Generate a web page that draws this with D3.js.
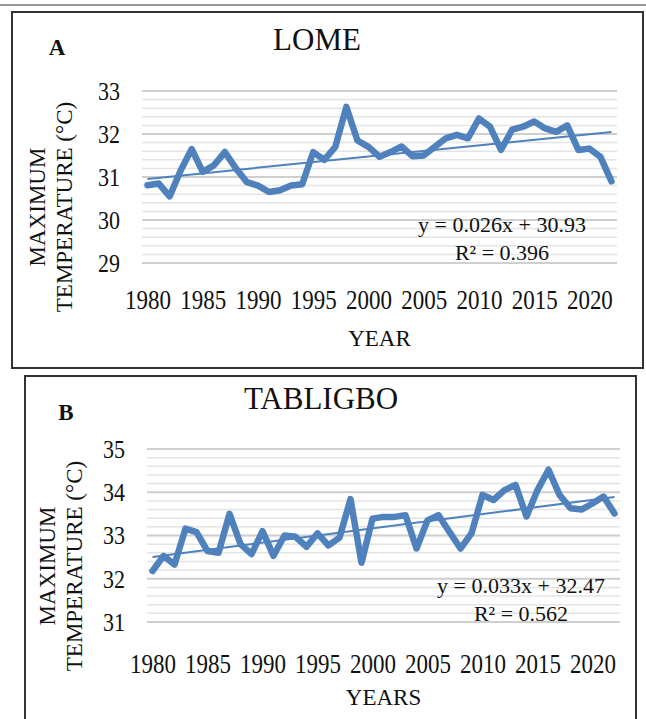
<!DOCTYPE html>
<html>
<head>
<meta charset="utf-8">
<script src="https://cdn.jsdelivr.net/npm/d3@7"></script>
<style>
  body { margin: 0; background: #fff; }
  svg text { font-family: "Liberation Serif", "Times New Roman", serif; fill: #111; }
</style>
</head>
<body>
<svg id="chart" width="646" height="719"></svg>
<script>
// values
var years = d3.range(1980, 2023);
var xTickLabels = [1980, 1985, 1990, 1995, 2000, 2005, 2010, 2015, 2020];

var lomeTmax = [30.81, 30.85, 30.55, 31.15, 31.65, 31.12, 31.27, 31.58, 31.2, 30.88,
                30.8, 30.65, 30.69, 30.8, 30.83, 31.58, 31.4, 31.7, 32.63, 31.85,
                31.7, 31.47, 31.58, 31.71, 31.48, 31.5, 31.7, 31.9, 31.98, 31.9,
                32.36, 32.17, 31.63, 32.1, 32.17, 32.29, 32.13, 32.05, 32.2, 31.63,
                31.66, 31.47, 30.9];
var tabligboTmax = [32.18, 32.53, 32.33, 33.16, 33.08, 32.64, 32.6, 33.5, 32.8, 32.57,
                    33.1, 32.53, 33.0, 32.97, 32.74, 33.05, 32.77, 32.95, 33.84, 32.37,
                    33.39, 33.43, 33.43, 33.47, 32.7, 33.35, 33.47, 33.08, 32.7, 33.05,
                    33.94, 33.82, 34.05, 34.17, 33.44, 34.05, 34.52, 33.94, 33.63, 33.6,
                    33.74, 33.9, 33.51];

var yTicksA = [29, 30, 31, 32, 33];
var yTicksB = [31, 32, 33, 34, 35];
var trendA = [0.026, 30.93];   // slope, intercept (x = 1..43)
var trendB = [0.033, 32.47];
var r2Labels = ['0.396', '0.562'];

var svg = d3.select('#chart');
var blue = '#4f81bd';

function drawPanel(p) {
    var g = svg.append('g');

    // frame
    g.append('rect')
        .attr('x', p.frame[0]).attr('y', p.frame[1])
        .attr('width', p.frame[2]).attr('height', p.frame[3])
        .attr('fill', '#fff').attr('stroke', '#333').attr('stroke-width', 2);

    var x = d3.scalePoint().domain(years).range([p.left, p.right]).padding(0.5);
    var y = d3.scaleLinear().domain([p.yTicks[0], p.yTicks[p.yTicks.length - 1]])
        .range([p.bottom, p.top]);

    // minor + major gridlines
    var minor = d3.range(p.yTicks[0], p.yTicks[p.yTicks.length - 1] + 0.01, 0.2);
    g.selectAll('.minor').data(minor).enter().append('line')
        .attr('x1', p.left).attr('x2', p.right)
        .attr('y1', function(d) { return y(d); })
        .attr('y2', function(d) { return y(d); })
        .attr('stroke', '#e4e4e4').attr('stroke-width', 1.5);
    g.selectAll('.major').data(p.yTicks).enter().append('line')
        .attr('x1', p.left).attr('x2', p.right)
        .attr('y1', function(d) { return y(d); })
        .attr('y2', function(d) { return y(d); })
        .attr('stroke', '#cfcfcf').attr('stroke-width', 1.8);

    // y axis labels
    var yAxis = g.append('g')
        .attr('transform', 'translate(' + (p.left - 22) + ',0)')
        .call(d3.axisLeft(y).tickValues(p.yTicks).tickFormat(d3.format('d'))
            .tickSize(0).tickPadding(0));
    yAxis.select('.domain').remove();
    yAxis.selectAll('text').style('font-size', '22px')
        .style('font-family', '"Liberation Serif", serif').attr('fill', '#111')
        .attr('dy', '0.33em').attr('transform', 'scale(1,1.15)');

    // x axis labels
    var xAxis = g.append('g')
        .attr('transform', 'translate(0,' + p.xLabelY + ')')
        .call(d3.axisBottom(x).tickValues(xTickLabels).tickSize(0).tickPadding(0));
    xAxis.select('.domain').remove();
    xAxis.selectAll('text').style('font-size', '23px')
        .style('font-family', '"Liberation Serif", serif').attr('fill', '#111')
        .attr('dy', '0.33em').attr('transform', 'scale(1,1.15)');

    // series line
    var line = d3.line()
        .x(function(d, i) { return x(years[i]); })
        .y(function(d) { return y(d); });
    g.append('path').datum(p.values)
        .attr('d', line)
        .attr('fill', 'none').attr('stroke', blue)
        .attr('stroke-width', 6.5).attr('stroke-linejoin', 'round').attr('stroke-linecap', 'round');

    // linear trend
    var n = years.length;
    g.append('line')
        .attr('x1', x(years[0])).attr('y1', y(p.trend[0] * 1 + p.trend[1]))
        .attr('x2', x(years[n - 1])).attr('y2', y(p.trend[0] * n + p.trend[1]))
        .attr('stroke', blue).attr('stroke-width', 2);

    // equation
    g.append('text').attr('x', p.eq[0]).attr('y', p.eq[1])
        .attr('text-anchor', 'middle').style('font-size', '22px')
        .text('y = ' + p.trend[0] + 'x + ' + p.trend[1]);
    g.append('text').attr('x', p.eq[0]).attr('y', p.eq[1] + 28)
        .attr('text-anchor', 'middle').style('font-size', '22px')
        .text('R² = ' + p.r2);

    // titles
    g.append('text').attr('x', p.titleX).attr('y', p.titleY)
        .attr('text-anchor', 'middle').style('font-size', '31px').text(p.title);
    g.append('text').attr('x', p.letter[0]).attr('y', p.letter[1])
        .attr('text-anchor', 'middle').style('font-size', '23px')
        .style('font-weight', 'bold').text(p.letterText);
    g.append('text').attr('x', (p.left + p.right) / 2).attr('y', p.xTitleY)
        .attr('text-anchor', 'middle').style('font-size', '23px').text(p.xTitle);

    // y title, two rotated lines
    var yt = g.append('text')
        .attr('transform', 'translate(' + p.yTitle[0] + ',' + p.yTitle[1] + ') rotate(-90)')
        .attr('text-anchor', 'middle').style('font-size', '23px');
    yt.append('tspan').attr('x', 0).attr('y', 0).text('MAXIMUM');
    yt.append('tspan').attr('x', 0).attr('y', 27).text('TEMPERATURE (°C)');
}

// thin grey rule above the first frame
svg.append('line').attr('x1', 0).attr('x2', 646).attr('y1', 5).attr('y2', 5)
    .attr('stroke', '#999').attr('stroke-width', 2);

drawPanel({
    frame: [12, 12, 631, 356],
    left: 142, right: 617, top: 91, bottom: 263,
    yTicks: yTicksA, values: lomeTmax, trend: trendA, r2: r2Labels[0],
    xLabelY: 300, xTitleY: 346, xTitle: 'YEAR',
    title: 'LOME', titleX: 317, titleY: 50,
    letter: [57, 55], letterText: 'A',
    eq: [502, 232], yTitle: [45, 207]
});

drawPanel({
    frame: [25, 376, 611, 360],
    left: 147, right: 620, top: 449, bottom: 622,
    yTicks: yTicksB, values: tabligboTmax, trend: trendB, r2: r2Labels[1],
    xLabelY: 664, xTitleY: 705, xTitle: 'YEARS',
    title: 'TABLIGBO', titleX: 321, titleY: 409,
    letter: [66, 420], letterText: 'B',
    eq: [521, 593], yTitle: [55, 566]
});
</script>
</body>
</html>
